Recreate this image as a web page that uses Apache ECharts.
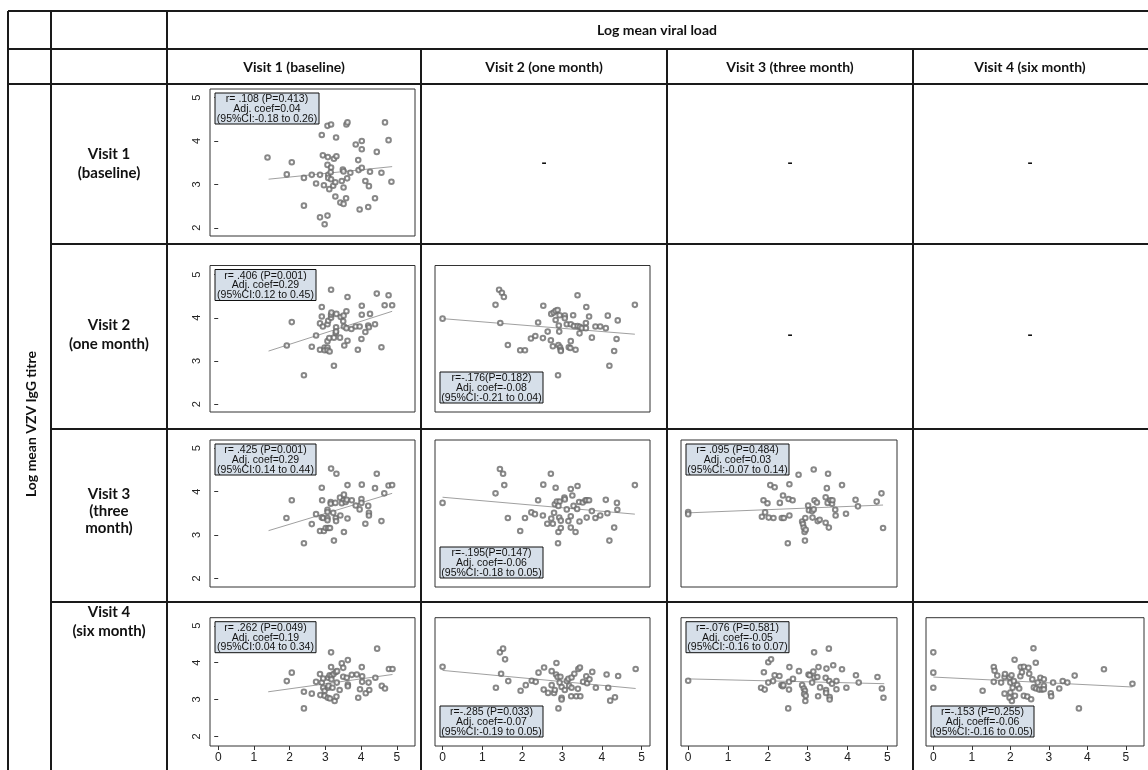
<!DOCTYPE html>
<html><head><meta charset="utf-8">
<script src="https://cdn.jsdelivr.net/npm/echarts@6/dist/echarts.min.js"></script>
<style>html,body{margin:0;padding:0;background:#fff}#c{width:1148px;height:770px}</style>
</head><body><div id="c"></div>
<script>
// ---------- text ----------
const topTitle = 'Log mean viral load';
const sideTitle = 'Log mean VZV IgG titre';
const colLabels = ['Visit 1 (baseline)', 'Visit 2 (one month)', 'Visit 3 (three month)', 'Visit 4 (six month)'];
const rowLabels = [['Visit 1', '(baseline)'], ['Visit 2', '(one month)'], ['Visit 3', '(three', 'month)'], ['Visit 4', '(six month)']];
const xTicks = [0, 1, 2, 3, 4, 5];
const yTicks = [2, 3, 4, 5];

// ---------- data (x = log mean viral load, y = log mean VZV IgG titre) ----------
const p11 = [[1.38,3.62],[2.06,3.51],[1.92,3.23],[2.40,3.15],[2.62,3.22],[2.74,3.02],[2.40,2.51],[2.85,2.24],[3.06,2.28],[2.98,2.08],[2.90,4.14],[3.06,4.35],[3.16,4.38],[3.30,4.08],[3.59,4.38],[3.62,4.43],[2.93,3.67],[3.07,3.63],[3.24,3.59],[3.31,3.65],[3.06,3.45],[3.16,3.39],[2.85,3.22],[3.08,3.22],[3.15,3.28],[3.08,3.15],[3.16,3.12],[2.96,2.98],[3.11,2.89],[3.22,2.97],[3.28,3.05],[3.46,3.08],[3.51,2.93],[3.61,3.14],[3.49,3.34],[3.51,3.30],[3.70,3.27],[3.28,2.72],[3.42,2.58],[3.58,2.68],[3.51,2.55],[3.92,3.56],[3.93,3.33],[3.85,3.92],[4.02,4.00],[4.02,3.81],[4.02,3.38],[4.12,3.08],[4.22,2.96],[3.96,2.42],[4.20,2.48],[4.39,2.68],[4.25,3.29],[4.44,3.75],[4.57,3.27],[4.67,4.43],[4.77,4.02],[4.85,3.06]];
const p21 = [[1.92,3.36],[2.06,3.90],[2.40,2.67],[2.62,3.33],[2.74,3.59],[2.85,3.87],[2.90,4.03],[2.90,4.25],[2.93,3.80],[3.06,3.85],[3.08,3.93],[3.16,4.00],[3.16,4.07],[3.17,4.12],[3.16,4.65],[2.85,3.26],[2.98,3.31],[2.98,3.25],[3.06,3.31],[3.06,3.25],[3.12,3.22],[3.06,3.46],[3.11,3.53],[3.24,3.54],[3.29,3.65],[3.30,3.78],[3.30,3.68],[3.24,2.89],[3.41,3.54],[3.31,4.09],[3.43,4.02],[3.50,3.92],[3.52,3.80],[3.51,4.05],[3.59,4.15],[3.62,4.48],[3.59,3.76],[3.73,3.74],[3.53,3.36],[3.62,3.47],[3.85,3.80],[3.96,3.80],[3.91,3.26],[4.01,3.51],[4.02,4.07],[4.02,4.28],[4.12,3.67],[4.20,3.82],[4.22,3.78],[4.25,4.09],[4.39,3.85],[4.44,4.56],[4.57,3.32],[4.66,4.29],[4.77,4.52],[4.87,4.29]];
const p22 = [[0,3.98],[1.33,4.30],[1.42,4.65],[1.49,4.58],[1.54,4.48],[1.45,3.88],[1.64,3.37],[1.95,3.25],[2.07,3.25],[2.22,3.52],[2.33,3.58],[2.40,3.89],[2.52,3.53],[2.53,4.28],[2.64,3.68],[2.72,3.48],[2.73,4.09],[2.79,4.12],[2.84,4.16],[2.89,4.18],[2.84,3.95],[2.77,3.34],[2.91,3.37],[2.95,3.32],[2.97,3.26],[2.97,3.23],[2.90,2.67],[2.94,4.06],[3.07,4.05],[3.07,3.99],[2.92,3.82],[2.93,3.68],[3.12,3.85],[3.22,3.85],[3.28,4.06],[3.30,3.81],[3.39,3.81],[3.45,3.79],[3.50,3.76],[3.60,3.76],[3.60,3.88],[3.39,4.52],[3.61,4.25],[3.68,4.03],[3.44,3.64],[3.22,3.46],[3.17,3.32],[3.21,3.30],[3.34,3.26],[3.75,3.54],[3.84,3.80],[3.96,3.80],[4.10,3.76],[4.15,4.05],[4.40,3.94],[4.37,3.51],[4.31,3.23],[4.19,2.89],[4.83,4.30]];
const p31 = [[1.91,3.39],[2.06,3.80],[2.40,2.81],[2.62,3.25],[2.74,3.48],[2.85,3.09],[2.96,3.09],[3.01,3.16],[3.08,3.16],[3.13,3.16],[2.91,3.80],[2.90,4.09],[3.16,4.53],[3.31,4.41],[2.90,3.40],[2.94,3.39],[3.06,3.39],[3.06,3.34],[3.06,3.58],[3.06,3.53],[3.15,3.76],[3.15,3.72],[3.28,3.74],[3.22,3.51],[3.29,3.39],[3.30,3.32],[3.42,3.45],[3.24,2.87],[3.41,3.86],[3.52,3.93],[3.51,3.80],[3.46,3.73],[3.57,3.76],[3.60,3.81],[3.62,4.15],[3.74,3.80],[3.52,3.07],[3.62,3.38],[3.85,3.68],[3.96,3.59],[4.01,3.83],[4.01,3.74],[4.02,4.16],[4.12,3.26],[4.20,3.67],[4.22,3.51],[4.22,3.45],[4.39,4.08],[4.44,4.41],[4.57,3.32],[4.65,3.96],[4.77,4.14],[4.87,4.15]];
const p32 = [[0,3.74],[1.33,3.96],[1.44,4.52],[1.52,4.41],[1.55,4.15],[1.64,3.39],[1.95,3.09],[2.07,3.39],[2.23,3.52],[2.32,3.48],[2.40,3.80],[2.52,3.45],[2.53,4.16],[2.63,3.26],[2.72,4.41],[2.73,3.38],[2.77,3.26],[2.80,3.51],[2.84,4.09],[2.82,3.71],[2.87,3.77],[2.94,3.77],[2.91,3.67],[2.91,3.07],[2.93,3.40],[2.97,3.33],[2.97,3.16],[2.90,2.81],[3.06,3.86],[3.07,3.82],[3.22,4.06],[3.26,3.91],[3.39,4.13],[3.12,3.59],[3.16,3.32],[3.22,3.43],[3.22,3.17],[3.29,3.67],[3.34,3.07],[3.38,3.60],[3.43,3.76],[3.44,3.31],[3.52,3.75],[3.59,3.80],[3.62,3.80],[3.68,3.80],[3.62,3.40],[3.75,3.55],[3.84,3.39],[3.96,3.45],[4.10,3.81],[4.14,3.50],[4.19,2.87],[4.31,3.17],[4.38,3.74],[4.39,3.58],[4.83,4.15]];
const p33 = [[0,3.53],[0,3.48],[1.85,3.42],[1.93,3.52],[2.02,3.40],[2.14,3.39],[1.89,3.80],[1.99,3.73],[2.06,4.15],[2.17,4.10],[2.30,3.74],[2.35,3.39],[2.40,3.39],[2.38,3.91],[2.52,3.83],[2.62,3.80],[2.54,3.45],[2.54,4.17],[2.50,2.81],[2.77,4.39],[2.86,3.31],[2.88,3.25],[2.90,3.17],[2.92,3.07],[2.94,3.39],[2.93,2.87],[2.95,3.12],[3.01,3.68],[3.03,3.57],[3.11,3.55],[3.15,3.59],[3.15,4.51],[3.12,3.40],[3.17,3.80],[3.23,3.75],[3.25,3.32],[3.30,3.35],[3.45,3.87],[3.48,4.08],[3.45,3.28],[3.53,3.17],[3.51,4.41],[3.50,3.74],[3.57,3.80],[3.61,3.72],[3.62,3.80],[3.69,3.58],[3.70,3.45],[3.86,4.15],[3.96,3.49],[4.20,3.81],[4.26,3.66],[4.73,3.77],[4.85,3.96],[4.89,3.16]];
const p41 = [[1.92,3.50],[2.06,3.73],[2.40,3.21],[2.40,2.76],[2.62,3.16],[2.74,3.48],[2.85,3.69],[2.90,3.46],[2.94,3.57],[2.94,3.32],[2.86,3.12],[2.98,3.24],[2.98,3.10],[3.07,3.05],[3.08,3.32],[3.08,3.59],[3.12,3.66],[3.17,3.64],[3.17,3.55],[3.16,3.88],[3.16,4.28],[3.09,3.37],[3.13,3.03],[3.20,3.32],[3.23,3.69],[3.29,3.75],[3.33,3.77],[3.26,2.96],[3.31,3.08],[3.32,3.46],[3.40,3.26],[3.46,3.98],[3.50,3.86],[3.50,3.62],[3.63,4.07],[3.60,3.59],[3.63,3.41],[3.63,3.36],[3.74,3.67],[3.88,3.68],[3.92,3.05],[4.02,3.88],[4.03,3.63],[4.03,3.48],[3.97,3.28],[4.13,3.17],[4.21,3.46],[4.23,3.26],[4.40,3.59],[4.45,4.38],[4.58,3.37],[4.67,3.30],[4.78,3.83],[4.88,3.83]];
const p42 = [[0,3.89],[1.34,3.32],[1.44,4.28],[1.52,4.38],[1.57,4.09],[1.47,3.70],[1.65,3.50],[1.96,3.24],[2.09,3.39],[2.24,3.51],[2.34,3.48],[2.41,3.73],[2.54,3.27],[2.55,3.87],[2.65,3.18],[2.74,3.39],[2.74,3.77],[2.80,3.18],[2.82,3.26],[2.86,3.99],[2.85,3.68],[2.89,3.61],[2.96,3.62],[2.91,2.76],[2.94,3.46],[2.99,3.34],[2.99,3.05],[2.99,3.00],[3.07,3.26],[3.12,3.50],[3.16,3.56],[3.18,3.37],[3.24,3.32],[3.24,3.60],[3.31,3.70],[3.23,3.09],[3.36,3.09],[3.46,3.09],[3.40,3.29],[3.41,3.83],[3.45,3.87],[3.53,3.48],[3.61,3.63],[3.63,3.44],[3.69,3.55],[3.76,3.75],[3.85,3.32],[4.12,3.68],[4.16,3.32],[4.21,2.97],[4.33,3.06],[4.41,3.64],[4.85,3.83]];
const p43 = [[0,3.51],[1.83,3.32],[1.92,3.27],[1.90,3.74],[2.01,4.01],[2.08,4.09],[2.01,3.46],[2.13,3.50],[2.17,3.66],[2.29,3.64],[2.34,3.39],[2.37,3.36],[2.39,3.39],[2.53,3.27],[2.53,3.48],[2.54,3.88],[2.63,3.56],[2.51,2.76],[2.78,3.77],[2.86,3.39],[2.90,3.30],[2.93,3.24],[2.91,3.15],[2.95,3.10],[2.94,2.96],[3.02,3.68],[3.05,3.66],[3.11,3.46],[3.14,3.76],[3.16,4.28],[3.17,3.60],[3.24,3.61],[3.26,3.09],[3.27,3.88],[3.31,3.33],[3.45,3.59],[3.47,3.84],[3.46,3.26],[3.46,3.18],[3.53,4.38],[3.54,3.50],[3.55,3.07],[3.55,3.00],[3.61,3.43],[3.64,3.93],[3.72,3.50],[3.72,3.28],[3.86,3.82],[3.97,3.32],[4.21,3.66],[4.28,3.46],[4.75,3.61],[4.86,3.30],[4.90,3.05]];
const p44 = [[0,4.28],[0,3.73],[0,3.32],[1.28,3.24],[1.57,3.88],[1.59,3.78],[1.66,3.65],[1.57,3.48],[1.76,3.46],[1.85,3.16],[1.85,3.61],[1.86,3.69],[1.98,3.60],[2.00,3.46],[2.03,3.66],[2.00,3.19],[1.98,3.05],[2.04,2.96],[2.11,4.08],[2.09,3.50],[2.06,3.32],[2.12,3.10],[2.18,3.39],[2.23,3.30],[2.26,3.63],[2.27,3.88],[2.30,3.74],[2.35,3.89],[2.35,3.10],[2.44,3.08],[2.54,3.01],[2.47,3.86],[2.49,3.70],[2.60,4.39],[2.57,3.55],[2.61,3.33],[2.66,4.00],[2.67,3.30],[2.71,3.46],[2.75,3.27],[2.78,3.59],[2.82,3.27],[2.87,3.55],[2.87,3.37],[2.87,3.28],[3.05,3.17],[3.06,3.09],[3.11,3.46],[3.27,3.30],[3.36,3.50],[3.48,3.46],[3.67,3.65],[3.78,2.76],[4.43,3.82],[5.17,3.43]];

// fitted lines, end points
const fit11 = [[1.41,3.12],[4.87,3.41]];
const fit21 = [[1.41,3.23],[4.87,4.15]];
const fit22 = [[0,3.98],[4.83,3.62]];
const fit31 = [[1.41,3.10],[4.87,3.96]];
const fit32 = [[0,3.87],[4.83,3.48]];
const fit33 = [[0,3.51],[4.89,3.69]];
const fit41 = [[1.40,3.21],[4.88,3.68]];
const fit42 = [[0,3.79],[4.85,3.30]];
const fit43 = [[0,3.56],[4.92,3.43]];
const fit44 = [[0,3.61],[5.17,3.34]];

// statistics text
const st11 = ['r= .108 (P=0.413)', 'Adj. coef=0.04', '(95%CI:-0.18 to 0.26)'];
const st21 = ['r= .406 (P=0.001)', 'Adj. coef=0.29', '(95%CI:0.12 to 0.45)'];
const st22 = ['r=-.176(P=0.182)', 'Adj. coef=-0.08', '(95%CI:-0.21 to 0.04)'];
const st31 = ['r= .425 (P=0.001)', 'Adj. coef=0.29', '(95%CI:0.14 to 0.44)'];
const st32 = ['r=-.195(P=0.147)', 'Adj. coef=-0.06', '(95%CI:-0.18 to 0.05)'];
const st33 = ['r= .095 (P=0.484)', 'Adj. coef=0.03', '(95%CI:-0.07 to 0.14)'];
const st41 = ['r= .262 (P=0.049)', 'Adj. coef=0.19', '(95%CI:0.04 to 0.34)'];
const st42 = ['r=-.285 (P=0.033)', 'Adj. coef=-0.07', '(95%CI:-0.19 to 0.05)'];
const st43 = ['r=-.076 (P=0.581)', 'Adj. coef=-0.05', '(95%CI:-0.16 to 0.07)'];
const st44 = ['r=-.153 (P=0.255)', 'Adj. coeff=-0.06', '(95%CI:-0.16 to 0.05)'];

// ---------- layout ----------
const colEdges = [8, 51, 167, 421, 667, 913, 1147];
const rowEdges = [11, 49, 84, 244, 429, 602, 770];
const colBox = [[210, 415], [435, 650], [681, 897], [926, 1144]];
const rowBox = [[89, 236], [265.5, 412], [440, 587], [617.7, 746]];
const xExt = [[-0.23, 5.51], [-0.19, 5.21], [-0.18, 5.24], [-0.19, 5.47]];
const yExt = [[1.81, 5.2], [1.82, 5.21], [1.80, 5.19], [1.74, 5.22]];

const panels = [
  {r:0, c:0, pts:p11, fit:fit11, st:st11, pos:'top', w:104},
  {r:1, c:0, pts:p21, fit:fit21, st:st21, pos:'top', w:101},
  {r:1, c:1, pts:p22, fit:fit22, st:st22, pos:'bottom', w:103},
  {r:2, c:0, pts:p31, fit:fit31, st:st31, pos:'top', w:101},
  {r:2, c:1, pts:p32, fit:fit32, st:st32, pos:'bottom', w:103},
  {r:2, c:2, pts:p33, fit:fit33, st:st33, pos:'top', w:103},
  {r:3, c:0, pts:p41, fit:fit41, st:st41, pos:'top', w:101},
  {r:3, c:1, pts:p42, fit:fit42, st:st42, pos:'bottom', w:103},
  {r:3, c:2, pts:p43, fit:fit43, st:st43, pos:'top', w:103},
  {r:3, c:3, pts:p44, fit:fit44, st:st44, pos:'bottom', w:103}
];
const dashCells = [[0,1],[0,2],[0,3],[1,2],[1,3]];

const LINE = '#1a1a1a';
const HEAD_FONT = 'bold 14px Lato, "Open Sans", sans-serif';
const ROW_FONT = 'bold 15px Lato, "Open Sans", sans-serif';
const SIDE_FONT = 'bold 14px Lato, "Open Sans", sans-serif';
const SMALL = '"Liberation Sans", Arial, sans-serif';

const grid = [], xAxis = [], yAxis = [], series = [], graphic = [];

panels.forEach((p, i) => {
  const [l, rgt] = colBox[p.c], [t, b] = rowBox[p.r];
  grid.push({left: l, top: t, width: rgt - l, height: b - t, show: true,
    borderColor: '#333', borderWidth: 1, backgroundColor: '#fff', containLabel: false});
  const lastRow = p.r === 3, firstCol = p.c === 0;
  xAxis.push({type: 'value', gridIndex: i, min: xExt[p.c][0], max: xExt[p.c][1],
    axisLine: {show: false}, splitLine: {show: false},
    axisTick: {show: lastRow, customValues: xTicks, length: 4, lineStyle: {color: '#333'}},
    axisLabel: {show: lastRow, customValues: xTicks, margin: 6, fontSize: 12, color: '#222', fontFamily: SMALL}});
  yAxis.push({type: 'value', gridIndex: i, min: yExt[p.r][0], max: yExt[p.r][1],
    axisLine: {show: false}, splitLine: {show: false},
    axisTick: {show: firstCol, customValues: yTicks, length: 4, lineStyle: {color: '#333'}},
    axisLabel: {show: firstCol, customValues: yTicks, rotate: 90, margin: 8, fontSize: 11, color: '#222', fontFamily: SMALL}});
  series.push({type: 'line', xAxisIndex: i, yAxisIndex: i, data: p.fit, symbol: 'none', silent: true,
    lineStyle: {color: '#a0a0a0', width: 1}, z: 2});
  series.push({type: 'scatter', xAxisIndex: i, yAxisIndex: i, data: p.pts, symbol: 'emptyCircle',
    symbolSize: 4.6, silent: true, itemStyle: {color: '#6a6a6a', borderWidth: 0.7}, z: 3});
  // annotation box
  const bw = p.w, bh = 31;
  const bx = l + 5;
  const by = p.pos === 'top' ? t + 4 : b - 9 - bh;
  graphic.push({type: 'rect', z: 50, shape: {x: bx, y: by, width: bw, height: bh},
    style: {fill: '#d6dfe9', stroke: '#111', lineWidth: 1}});
  graphic.push({type: 'text', z: 51, style: {text: p.st.join('\n'), x: bx + bw / 2, y: by + bh / 2 + 0.5,
    align: 'center', verticalAlign: 'middle', textAlign: 'center', textVerticalAlign: 'middle',
    font: '10.5px ' + SMALL, lineHeight: 9.8, fill: '#111'}});
});

// table lines
const hl = (y, x1, x2) => graphic.push({type: 'line', z: 60, shape: {x1, y1: y, x2, y2: y}, style: {stroke: LINE, lineWidth: 2}});
const vl = (x, y1, y2) => graphic.push({type: 'line', z: 60, shape: {x1: x, y1, x2: x, y2}, style: {stroke: LINE, lineWidth: 2}});
hl(rowEdges[0], colEdges[0], 1148);
hl(rowEdges[1], colEdges[0], 1148);
hl(rowEdges[2], colEdges[0], 1148);
[3, 4, 5].forEach(k => hl(rowEdges[k], colEdges[1], 1148));
[0, 1, 2].forEach(k => vl(colEdges[k], rowEdges[0], 770));
[3, 4, 5].forEach(k => vl(colEdges[k], rowEdges[1], 770));

// header texts
const txt = (s, x, y, font, extra) => graphic.push(Object.assign({type: 'text', z: 70,
  style: {text: s, x, y, align: 'center', verticalAlign: 'middle', textAlign: 'center', textVerticalAlign: 'middle', font, fill: '#111', lineHeight: 19}}, extra || {}));
txt(topTitle, (colEdges[2] + colEdges[6]) / 2, (rowEdges[0] + rowEdges[1]) / 2, HEAD_FONT);
colLabels.forEach((s, k) => txt(s, (colEdges[k + 2] + colEdges[k + 3]) / 2, (rowEdges[1] + rowEdges[2]) / 2 + 1, HEAD_FONT));
const rowLabelY = [164, 335, 511, 622];
rowLabels.forEach((lines, k) => {
  const lh = lines.length === 3 ? 17 : 19;
  graphic.push({type: 'text', z: 70, style: {text: lines.join('\n'), x: (colEdges[1] + colEdges[2]) / 2, y: rowLabelY[k],
    align: 'center', verticalAlign: 'middle', textAlign: 'center', textVerticalAlign: 'middle', font: ROW_FONT, fill: '#111', lineHeight: lh}});
});
// dashes
dashCells.forEach(([r, c]) => txt('-', (colEdges[c + 2] + colEdges[c + 3]) / 2, (rowEdges[r + 2] + rowEdges[r + 3]) / 2 - 1, ROW_FONT));
// side title
graphic.push({type: 'text', z: 70, x: (colEdges[0] + colEdges[1]) / 2 + 2, y: 424, rotation: Math.PI / 2,
  style: {text: sideTitle, x: 0, y: 0, align: 'center', verticalAlign: 'middle', textAlign: 'center', textVerticalAlign: 'middle', font: SIDE_FONT, fill: '#111'}});

const chart = echarts.init(document.getElementById('c'), null, {renderer: 'canvas'});
chart.setOption({animation: false, backgroundColor: '#fff', grid, xAxis, yAxis, series, graphic});
</script></body></html>
